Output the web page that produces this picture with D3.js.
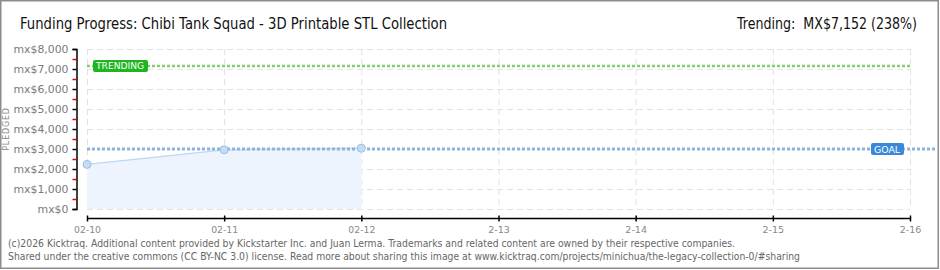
<!DOCTYPE html>
<html lang="en">
<head>
<meta charset="utf-8">
<title>Funding Progress</title>
<script src="https://cdn.jsdelivr.net/npm/d3@7"></script>
<style>
  body { margin: 0; background: #fff; }
  text { font-family: "DejaVu Sans", sans-serif; }
</style>
</head>
<body>
<script>
// data
var days = ["02-10", "02-11", "02-12", "2-13", "2-14", "2-15", "2-16"];
var pledged = [2230, 2960, 3040];
var goal = 3000;
var trending = 7152;
var yTicks = [0, 1000, 2000, 3000, 4000, 5000, 6000, 7000, 8000];

var w = 940, h = 270;

var svg = d3.select("body").append("svg")
  .attr("width", w)
  .attr("height", h);

// frame
svg.append("rect")
  .attr("x", 0.75).attr("y", 0.75)
  .attr("width", w - 2.5).attr("height", h - 2.5)
  .attr("fill", "#fff")
  .attr("stroke", "#8c8c8c")
  .attr("stroke-width", 1.5);

var xScale = d3.scalePoint().domain(days).range([87, 910]);
var yScale = d3.scaleLinear().domain([0, 8000]).range([209, 49]);

// title
svg.append("text")
  .attr("x", 20).attr("y", 29)
  .attr("font-size", 16)
  .attr("textLength", 427)
  .attr("lengthAdjust", "spacingAndGlyphs")
  .attr("fill", "#111")
  .text("Funding Progress: Chibi Tank Squad - 3D Printable STL Collection");

svg.append("text")
  .attr("x", 737).attr("y", 29)
  .attr("font-size", 16)
  .attr("textLength", 180)
  .attr("lengthAdjust", "spacingAndGlyphs")
  .attr("fill", "#111")
  .text("Trending:\u00a0\u00a0MX$7,152 (238%)");

// gridlines
var grid = svg.append("g");
grid.selectAll("line.h")
  .data(yTicks)
  .enter().append("line")
  .attr("x1", 87).attr("x2", 910)
  .attr("y1", function(d) { return yScale(d) + 0.5; })
  .attr("y2", function(d) { return yScale(d) + 0.5; })
  .attr("stroke", "#e2e2e2")
  .attr("stroke-dasharray", "6,4");
grid.selectAll("line.v")
  .data(days)
  .enter().append("line")
  .attr("x1", function(d) { return xScale(d) + 0.5; })
  .attr("x2", function(d) { return xScale(d) + 0.5; })
  .attr("y1", 49).attr("y2", 209)
  .attr("stroke", "#e2e2e2")
  .attr("stroke-dasharray", "6,4");

// area + line
var pts = pledged.map(function(v, i) { return [days[i], v]; });
var area = d3.area()
  .x(function(d) { return xScale(d[0]); })
  .y0(yScale(0))
  .y1(function(d) { return yScale(d[1]); });
svg.append("path")
  .datum(pts)
  .attr("d", area)
  .attr("fill", "#edf4fd");
var line = d3.line()
  .x(function(d) { return xScale(d[0]); })
  .y(function(d) { return yScale(d[1]); });
svg.append("path")
  .datum(pts)
  .attr("d", line)
  .attr("fill", "none")
  .attr("stroke", "#bcd7f3")
  .attr("stroke-width", 1.2);

// goal line
svg.append("line")
  .attr("x1", 87).attr("x2", 935)
  .attr("y1", yScale(goal)).attr("y2", yScale(goal))
  .attr("stroke", "#8fb3dc")
  .attr("stroke-width", 3)
  .attr("stroke-dasharray", "3,2");

// trending line
svg.append("line")
  .attr("x1", 87).attr("x2", 910)
  .attr("y1", yScale(trending)).attr("y2", yScale(trending))
  .attr("stroke", "#7fd070")
  .attr("stroke-width", 2.5)
  .attr("stroke-dasharray", "3,2");

// points
svg.selectAll("circle.pt")
  .data(pts)
  .enter().append("circle")
  .attr("cx", function(d) { return xScale(d[0]); })
  .attr("cy", function(d) { return yScale(d[1]); })
  .attr("r", 4)
  .attr("fill", "#c6dcf4")
  .attr("stroke", "#9dbde2")
  .attr("stroke-width", 1);

// labels on the lines
function tag(x, y, wd, txt, fill) {
  svg.append("rect")
    .attr("x", x).attr("y", y - 6)
    .attr("width", wd).attr("height", 12)
    .attr("rx", 2)
    .attr("fill", fill);
  svg.append("text")
    .attr("x", x + 3).attr("y", y + 3.5)
    .attr("font-size", 9)
    .attr("textLength", wd - 7)
    .attr("lengthAdjust", "spacingAndGlyphs")
    .attr("fill", "#fff")
    .text(txt);
}
tag(93, yScale(trending), 55, "TRENDING", "#1fb51f");
tag(871, yScale(goal), 33, "GOAL", "#3b87d8");

// y axis
var fmt = function(d) { return "mx$" + d3.format(",")(d); };
var yAxis = d3.axisLeft(yScale)
  .tickValues(yTicks)
  .tickSize(4)
  .tickFormat(fmt);
var gy = svg.append("g")
  .attr("transform", "translate(76.5,0)")
  .call(yAxis);
gy.select(".domain").attr("stroke", "#000").attr("stroke-width", 1.5);
gy.selectAll(".tick line").attr("stroke", "#000").attr("stroke-width", 1.5);
gy.selectAll(".tick text")
  .attr("x", -8)
  .attr("font-size", 11)
  .attr("textLength", function(d) {
    var s = d3.format(",")(d);
    var digits = s.replace(/,/g, "").length;
    var commas = s.length - digits;
    return 24 + digits * 7 + commas * 3;
  })
  .attr("lengthAdjust", "spacingAndGlyphs")
  .attr("fill", "#7a7a7a");
// red minor ticks
gy.selectAll("line.minor")
  .data(d3.range(500, 8000, 1000))
  .enter().append("line")
  .attr("x1", -4).attr("x2", 0)
  .attr("y1", function(d) { return yScale(d) + 0.5; })
  .attr("y2", function(d) { return yScale(d) + 0.5; })
  .attr("stroke", "#e00")
  .attr("stroke-width", 1.5);

svg.append("text")
  .attr("transform", "translate(9,129) rotate(-90)")
  .attr("text-anchor", "middle")
  .attr("font-size", 8)
  .attr("letter-spacing", 0.8)
  .attr("fill", "#888")
  .text("PLEDGED");

// x axis
var xAxis = d3.axisBottom(xScale).tickSize(5).tickPadding(3);
var gx = svg.append("g")
  .attr("transform", "translate(0,218.5)")
  .call(xAxis);
gx.select(".domain").attr("stroke", "#000").attr("stroke-width", 1.5)
  .attr("d", "M87,0H910");
gx.selectAll(".tick line").attr("stroke", "#000").attr("stroke-width", 1.5)
  .attr("y1", -3).attr("y2", 3);
gx.selectAll(".tick text")
  .attr("y", 8)
  .attr("font-size", 9)
  .attr("textLength", function(d) { return d.length * 5.4; })
  .attr("lengthAdjust", "spacingAndGlyphs")
  .attr("fill", "#888");

// footer
var foot = [
  "(c)2026 Kicktraq. Additional content provided by Kickstarter Inc. and Juan Lerma. Trademarks and related content are owned by their respective companies.",
  "Shared under the creative commons (CC BY-NC 3.0) license. Read more about sharing this image at www.kicktraq.com/projects/minichua/the-legacy-collection-0/#sharing"
];
var footLen = [727, 792];
svg.selectAll("text.foot")
  .data(foot)
  .enter().append("text")
  .attr("x", 8)
  .attr("y", function(d, i) { return 247 + i * 12.5; })
  .attr("font-size", 9.6)
  .attr("textLength", function(d, i) { return footLen[i]; })
  .attr("lengthAdjust", "spacingAndGlyphs")
  .attr("fill", "#666")
  .text(function(d) { return d; });
</script>
</body>
</html>
